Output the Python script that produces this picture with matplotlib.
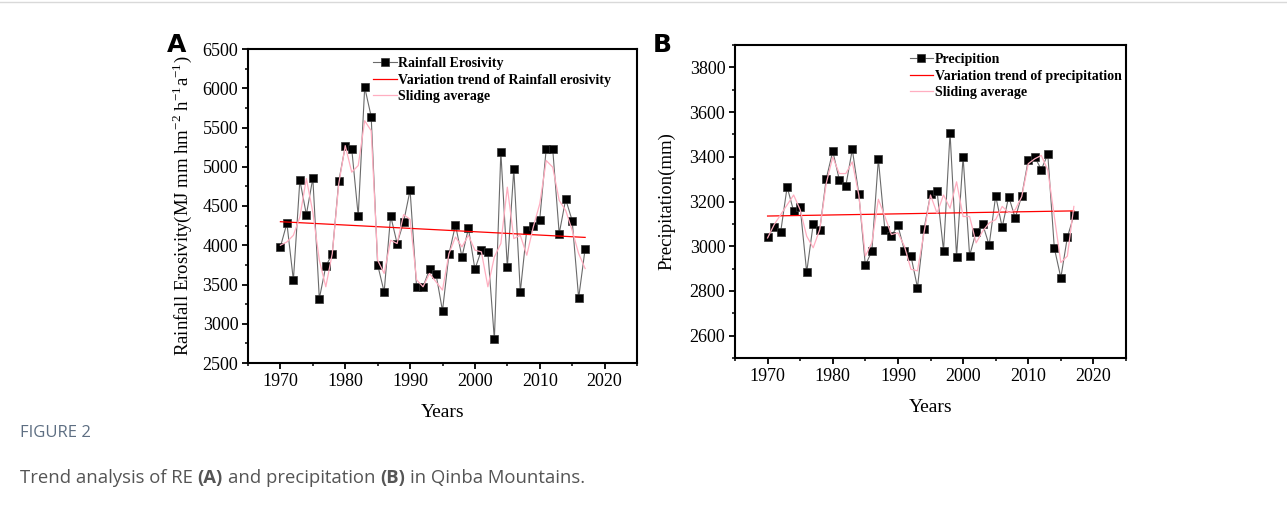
import matplotlib
matplotlib.use("Agg")
import matplotlib.pyplot as plt
from matplotlib.ticker import MultipleLocator
from matplotlib.lines import Line2D

plt.rcParams['font.family'] = ['Liberation Serif', 'DejaVu Serif']
plt.rcParams['mathtext.fontset'] = 'custom'
plt.rcParams['mathtext.rm'] = 'Liberation Serif'

years = list(range(1970, 2018))

# rainfall erosivity (panel A)
erosivity = [3980, 4280, 3555, 4830, 4390, 4855, 3320, 3733, 3893, 4815,
             5260, 5228, 4375, 6012, 5640, 3750, 3405, 4375, 4022, 4295,
             4702, 3471, 3471, 3695, 3632, 3165, 3889, 4258, 3852, 4216,
             3695, 3937, 3915, 2800, 5186, 3721, 4966, 3405, 4197, 4250,
             4328, 5232, 5225, 4148, 4586, 4315, 3328, 3955]
erosivity_smooth = [4000, 4042, 4127, 4360, 4850, 4420, 3810, 3471, 3894, 4783,
                    5269, 4931, 5015, 5586, 5459, 3810, 3641, 4064, 4022, 4390,
                    4330, 3560, 3471, 3641, 3534, 3429, 3894, 4105, 3979, 4127,
                    3937, 3916, 3471, 3852, 4022, 4740, 4085, 4127, 3873, 4232,
                    4528, 5079, 4994, 4571, 4444, 4190, 3894, 3703]
trend_years = [1970, 2017]
erosivity_trend = [4300, 4100]

# precipitation (panel B)
precip = [3040, 3086, 3062, 3265, 3157, 3175, 2884, 3098, 3071, 3301,
          3425, 3298, 3269, 3433, 3234, 2915, 2978, 3390, 3073, 3046,
          3093, 2980, 2956, 2815, 3076, 3232, 3248, 2980, 3507, 2953,
          3400, 2958, 3064, 3099, 3005, 3225, 3085, 3222, 3126, 3226,
          3385, 3399, 3343, 3411, 2992, 2859, 3040, 3138]
precip_smooth = [3037, 3096, 3141, 3185, 3229, 3163, 3045, 2993, 3074, 3281,
                 3399, 3325, 3325, 3377, 3229, 2956, 3015, 3210, 3133, 3052,
                 3060, 3000, 2897, 2890, 3060, 3229, 3148, 3229, 3170, 3288,
                 3133, 3133, 3015, 3067, 3104, 3119, 3178, 3150, 3163, 3222,
                 3369, 3391, 3406, 3340, 3133, 2927, 2956, 3178]
precip_trend = [3135, 3158]


def draw_panel(ax, vals, smooth, trend, labels, ylim, ystep, yminor, ylabel, leg_x, ypad):
    ax.plot(years, vals, color='#6a6a6a', lw=0.8, marker='s', ms=6,
            mfc='black', mec='#333333', mew=0.5, label=labels[0], zorder=3)
    ax.plot(trend_years, trend, color='red', lw=0.9, label=labels[1], zorder=4)
    ax.plot(years, smooth, color='#ffaec0', lw=0.9, label=labels[2], zorder=5)
    ax.set_xlim(1965, 2025)
    ax.set_ylim(*ylim)
    ax.xaxis.set_major_locator(MultipleLocator(10))
    ax.xaxis.set_minor_locator(MultipleLocator(5))
    ax.yaxis.set_major_locator(MultipleLocator(ystep))
    ax.yaxis.set_minor_locator(MultipleLocator(yminor))
    ax.tick_params(which='major', direction='out', length=4, width=1.3, labelsize=13, pad=3)
    ax.tick_params(which='minor', direction='out', length=2.5, width=1.1)
    for s in ax.spines.values():
        s.set_linewidth(1.5)
    ax.set_xlabel('Years', fontsize=14, labelpad=10)
    ax.set_ylabel(ylabel, fontsize=13.5, labelpad=ypad)
    ax.legend(loc='upper left', bbox_to_anchor=(leg_x, 1.0), frameon=False,
              prop={'weight': 'bold', 'size': 10}, handlelength=1.7,
              handletextpad=0.1, labelspacing=0.25, borderaxespad=0.2)


fig = plt.figure(figsize=(12.87, 5.12), dpi=100)
W, H = 1287, 512
axA = fig.add_axes([248 / W, 1 - 363 / H, 389 / W, 314 / H])
axB = fig.add_axes([735 / W, 1 - 358 / H, 391 / W, 313 / H])

draw_panel(axA, erosivity, erosivity_smooth, erosivity_trend,
           ['Rainfall Erosivity', 'Variation trend of Rainfall erosivity', 'Sliding average'],
           (2500, 6500), 500, 250,
           r'Rainfall Erosivity(MJ mm hm$^{-2}$ h$^{-1}$a$^{-1}$)', 0.30, 6)
draw_panel(axB, precip, precip_smooth, precip_trend,
           ['Precipition', 'Variation trend of precipitation', 'Sliding average'],
           (2500, 3900), 200, 100, 'Precipitation(mm)', 0.425, 10)

fig.text(177 / W, 1 - 45 / H, 'A', family='DejaVu Sans', weight='bold', fontsize=18,
         ha='center', va='center')
fig.text(662 / W, 1 - 45 / H, 'B', family='DejaVu Sans', weight='bold', fontsize=18,
         ha='center', va='center')

# top border line
fig.add_artist(Line2D([0, 1], [1 - 1.5 / H, 1 - 1.5 / H], color='#d9d9d9', lw=1))

# caption
fig.text(20 / W, 1 - 433 / H, 'FIGURE 2', family='Open Sans', fontsize=12,
         color='#5d6e82', va='center')

renderer = fig.canvas.get_renderer()
cap_kw = dict(family='Open Sans', fontsize=13.3, color='#555555', va='center')


def text_w(s, weight='normal'):
    t = fig.text(0, 0, s, weight=weight, **cap_kw)
    w = t.get_window_extent(renderer).width
    t.remove()
    return w


space = text_w('x x') - text_w('xx')
parts = [('Trend analysis of RE', 'normal'), ('(A)', 'bold'), ('and precipitation', 'normal'),
         ('(B)', 'bold'), ('in Qinba Mountains.', 'normal')]
x = 20.0
for txt, wt in parts:
    fig.text(x / W, 1 - 478 / H, txt, weight=wt, **cap_kw)
    x += text_w(txt, wt) + space

fig.savefig('out.png', dpi=100)
